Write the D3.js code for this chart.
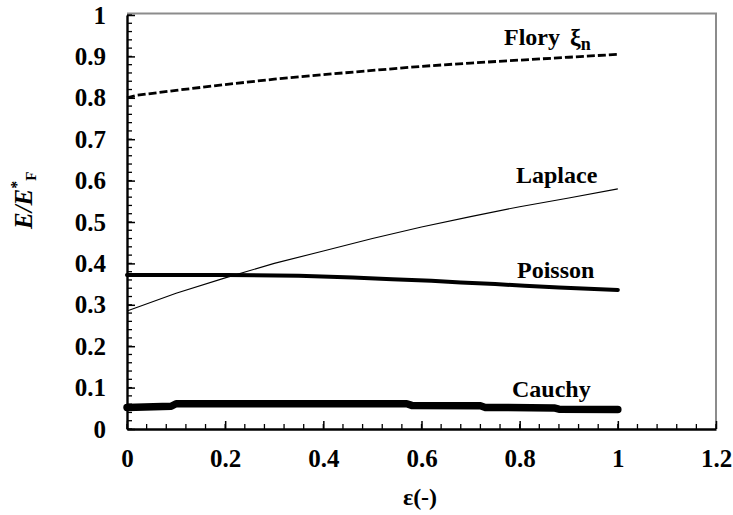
<!DOCTYPE html>
<html>
<head>
<meta charset="utf-8">
<script src="https://cdn.jsdelivr.net/npm/d3@7"></script>
<style>
  html, body { margin: 0; padding: 0; background: #fff; }
  svg text { font-family: "Liberation Serif", "Times New Roman", serif; font-weight: bold; fill: #000; }
</style>
</head>
<body>
<svg id="chart" width="733" height="515"></svg>
<script>
// Strain values and normalized energies for each constitutive model
const floryX   = [0, 0.02, 0.1, 0.2, 0.3, 0.4, 0.5, 0.6, 0.7, 0.8, 0.9, 1.0];
const floryY   = [0.800, 0.806, 0.818, 0.832, 0.845, 0.856, 0.866, 0.876, 0.884, 0.891, 0.898, 0.905];

const laplaceX = [0, 0.1, 0.2, 0.3, 0.4, 0.5, 0.6, 0.7, 0.8, 0.9, 1.0];
const laplaceY = [0.285, 0.328, 0.365, 0.400, 0.430, 0.460, 0.488, 0.513, 0.537, 0.558, 0.580];

const poissonX = [0, 0.2, 0.35, 0.46, 0.54, 0.62, 0.68, 0.75, 0.81, 0.88, 0.94, 1.0];
const poissonY = [0.372, 0.372, 0.370, 0.366, 0.362, 0.358, 0.354, 0.350, 0.346, 0.342, 0.339, 0.336];

const cauchyX  = [0, 0.09, 0.1, 0.57, 0.58, 0.72, 0.73, 0.87, 0.88, 1.0];
const cauchyY  = [0.052, 0.055, 0.061, 0.061, 0.057, 0.056, 0.052, 0.051, 0.048, 0.047];

const xTicks = [0, 0.2, 0.4, 0.6, 0.8, 1, 1.2];
const yTicks = [0, 0.1, 0.2, 0.3, 0.4, 0.5, 0.6, 0.7, 0.8, 0.9, 1];

const svg = d3.select("#chart");
const mLeft = 127, mRight = 716, mTop = 15, mBottom = 429;

const x = d3.scaleLinear().domain([0, 1.2]).range([mLeft, mRight]);
const y = d3.scaleLinear().domain([0, 1]).range([mBottom, mTop]);

// plot frame: grey top and right edges
svg.append("path")
  .attr("d", `M${mLeft},${mTop - 1.5}H${mRight}V${mBottom}`)
  .attr("fill", "none").attr("stroke", "#8c8c8c").attr("stroke-width", 2);

// minor ticks (inward)
const xMinor = d3.range(0, 1.2001, 0.04);
const yMinor = d3.range(0, 1.0001, 0.02);
svg.append("g").selectAll("line").data(xMinor).join("line")
  .attr("x1", d => x(d)).attr("x2", d => x(d))
  .attr("y1", mBottom).attr("y2", mBottom - 5)
  .attr("stroke", "#000").attr("stroke-width", 1.3);
svg.append("g").selectAll("line").data(yMinor).join("line")
  .attr("x1", mLeft).attr("x2", mLeft + 5)
  .attr("y1", d => y(d)).attr("y2", d => y(d))
  .attr("stroke", "#000").attr("stroke-width", 1.3);

// axes with major ticks pointing into the plot
const xAxis = d3.axisBottom(x).tickValues(xTicks).tickSizeInner(-8).tickSizeOuter(0)
  .tickFormat(d3.format("~g"));
const yAxis = d3.axisLeft(y).tickValues(yTicks).tickSizeInner(-8).tickSizeOuter(0)
  .tickPadding(21).tickFormat(d3.format("~g"));

const gx = svg.append("g").attr("transform", `translate(0,${mBottom})`).call(xAxis);
const gy = svg.append("g").attr("transform", `translate(${mLeft},0)`).call(yAxis);
[gx, gy].forEach(g => {
  g.select(".domain").attr("stroke", "#000").attr("stroke-width", 2.4);
  g.selectAll(".tick line").attr("stroke", "#000").attr("stroke-width", 1.5);
  g.selectAll(".tick text").style("font-family", "'Liberation Serif', serif")
    .style("font-weight", "bold").style("font-size", "25px").attr("fill", "#000");
});
gx.selectAll(".tick text").attr("y", 38).attr("dy", null);

// curves
const line = d3.line().x(d => x(d[0])).y(d => y(d[1]));
const zip = (a, b) => a.map((v, i) => [v, b[i]]);

svg.append("path").datum(zip(laplaceX, laplaceY)).attr("d", line)
  .attr("fill", "none").attr("stroke", "#000").attr("stroke-width", 1.1);
svg.append("path").datum(zip(floryX, floryY)).attr("d", line)
  .attr("fill", "none").attr("stroke", "#000").attr("stroke-width", 2.8)
  .attr("stroke-dasharray", "8,3");
svg.append("path").datum(zip(poissonX, poissonY)).attr("d", line)
  .attr("fill", "none").attr("stroke", "#000").attr("stroke-width", 4)
  .attr("stroke-linecap", "round");
svg.append("path").datum(zip(cauchyX, cauchyY)).attr("d", line)
  .attr("fill", "none").attr("stroke", "#000").attr("stroke-width", 7.5)
  .attr("stroke-linecap", "round").attr("stroke-linejoin", "round");

// curve labels
const lab = svg.append("g").style("font-size", "24px");
const flory = lab.append("text").attr("x", 504).attr("y", 45);
flory.append("tspan").text("Flory ");
flory.append("tspan").attr("dx", 4).text("ξ");
flory.append("tspan").attr("dy", 5).style("font-size", "18px").text("n");
lab.append("text").attr("x", 516).attr("y", 183).text("Laplace");
lab.append("text").attr("x", 517).attr("y", 278).text("Poisson");
lab.append("text").attr("x", 512).attr("y", 397).text("Cauchy");

// axis titles
svg.append("text").attr("x", 420).attr("y", 505)
  .attr("text-anchor", "middle").style("font-size", "24px").text("ε(-)");

const yt = svg.append("text")
  .attr("transform", "translate(32,229) rotate(-90)")
  .style("font-size", "25px");
yt.append("tspan").style("font-style", "italic").text("E/E");
yt.append("tspan").attr("dy", -10).style("font-size", "16px").text("*");
yt.append("tspan").attr("dy", 14).style("font-size", "15px").text("F");
</script>
</body>
</html>
